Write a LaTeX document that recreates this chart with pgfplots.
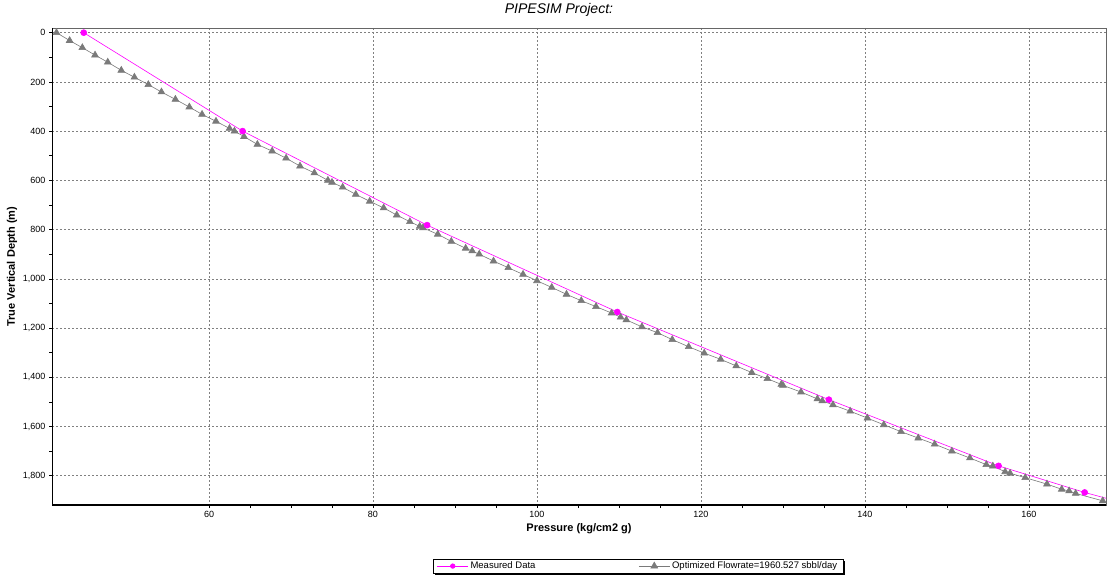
\documentclass[border=0pt]{standalone}
\usepackage{pgfplots}
\pgfplotsset{compat=1.18}
\usepackage{fontspec}
\setmainfont{Liberation Sans}
\definecolor{tri}{HTML}{7A7A7A}
\definecolor{mag}{HTML}{FF00FF}
\definecolor{gridc}{HTML}{808080}
\begin{document}
\begin{tikzpicture}
\path[use as bounding box] (-52pt,-72pt) rectangle (1055pt,505pt);
\begin{axis}[
  at={(0pt,0pt)}, anchor=south west,
  scale only axis, width=1054pt, height=477pt,
  xmin=40.85, xmax=169.4, ymin=-19, ymax=1919, y dir=reverse,
  xtick={60,80,...,160}, ytick={0,200,...,1800},
  minor x tick num=3, minor y tick num=1,
  xtick pos=bottom, ytick pos=left,
  tick align=outside, major tick length=3pt, minor tick length=3pt,
  tick style={black, line width=0.5pt},
  grid=major, major grid style={gridc, dash pattern=on 2pt off 2pt, line width=0.5pt},
  axis line style={draw=gray!80!black, line width=0.7pt},
  ticklabel style={font=\fontsize{9}{10}\selectfont},
  /pgf/number format/assume math mode=true,
  /pgf/number format/1000 sep={,},
  every axis title shift=0pt,
  title={PIPESIM Project:},
  title style={at={(axis description cs:0.481,1.0377)}, anchor=center, font=\itshape\fontsize{14}{16}\selectfont},
  xlabel={Pressure (kg/cm2 g)},
  xlabel style={at={(axis description cs:0.5,-0.0503)}, anchor=center, font=\bfseries\fontsize{11}{13}\selectfont},
  ylabel={True Vertical Depth (m)},
  ylabel style={at={(axis description cs:-0.038,0.5)}, anchor=center, font=\bfseries\fontsize{11}{13}\selectfont},
  legend columns=2,
  legend style={at={(axis description cs:0.556,-0.128)}, anchor=center, name=leg,
    draw=black, fill=white, font=\fontsize{9.5}{11}\selectfont,
    inner xsep=4pt, inner ysep=1pt,
    /tikz/every even column/.append style={column sep=101pt}},
  legend image code/.code={\draw[mark repeat=2,mark phase=2] plot coordinates {(0pt,0pt) (15.5pt,0pt) (31pt,0pt)};},
]
\addlegendimage{color=mag, line width=0.6pt, mark=*, mark size=2.3pt, mark options={fill=mag, draw=mag}}
\addlegendentry{Measured Data}
\addplot[color=tri, line width=0.6pt, mark=triangle*, mark size=3.9pt, mark options={fill=tri, draw=tri}] coordinates {
(41.4,0) (43.0,32) (44.55,61) (46.1,91) (47.65,120) (49.3,153) (50.9,181) (52.6,211)
(54.2,241) (55.9,271) (57.6,302) (59.15,332) (60.85,360) (62.5,389) (63.1,400) (64.27,422)
(65.9,454) (67.7,481) (69.4,510) (71.1,542) (72.85,570) (74.5,600) (75.0,608) (76.3,628)
(77.9,657) (79.6,685) (81.3,712) (82.9,741) (84.5,768) (85.7,787) (86.1,793) (87.9,819)
(89.55,848) (91.3,876) (92.1,887) (92.96,900) (94.7,928) (96.5,955) (98.3,982) (100.0,1008)
(101.8,1035) (103.6,1063) (105.4,1089) (107.2,1113) (109.1,1139) (110.2,1156) (110.9,1167)
(112.8,1195) (114.7,1219) (116.5,1247) (118.5,1276) (120.4,1302) (122.4,1327) (124.3,1354)
(126.2,1381) (128.1,1406) (129.8,1429) (130.0,1433) (132.2,1460) (134.2,1488) (134.8,1496)
(136.1,1512) (138.2,1538) (140.3,1566) (142.3,1593) (144.4,1621) (146.5,1647) (148.5,1672)
(150.6,1700) (152.8,1728) (154.8,1755) (155.6,1761) (157.1,1784) (157.7,1790) (159.55,1808)
(162.2,1834) (164.0,1855) (164.9,1862) (165.7,1872) (169.0,1902)
};
\addlegendentry{Optimized Flowrate=1960.527 sbbl/day\hspace{8pt}}
\addplot[forget plot, color=mag, line width=0.6pt, mark=*, mark size=3pt, mark options={fill=mag, draw=mag}] coordinates {
(44.72,0) (64.1,400) (86.6,782) (109.8,1135) (135.6,1491) (156.3,1760) (166.8,1868) (172.0,1915)
};
\draw[black, line width=1.5pt] (axis description cs:0,1) -- (axis description cs:0,0) -- (axis description cs:1,0);
\end{axis}
\fill[black] (leg.south west) ++(2pt,0pt) rectangle ([xshift=2pt,yshift=-2pt]leg.south east);
\fill[black] (leg.north east) ++(0pt,-2pt) rectangle ([xshift=2pt,yshift=-2pt]leg.south east);
\end{tikzpicture}
\end{document}
